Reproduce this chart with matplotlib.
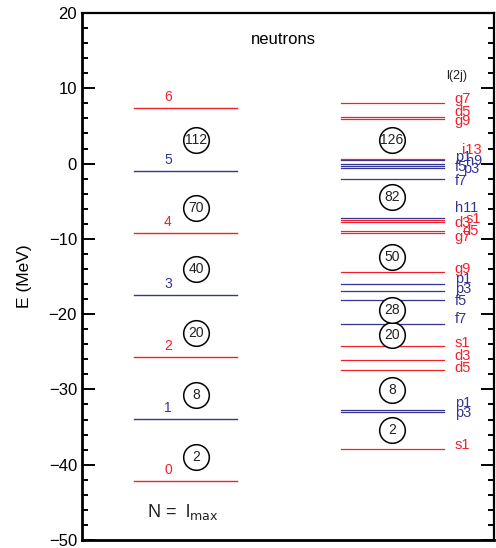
import matplotlib
matplotlib.use("Agg")
import matplotlib.pyplot as plt
from matplotlib.ticker import MultipleLocator

plt.rcParams["font.family"] = ["Liberation Sans", "DejaVu Sans"]

RED = "#f0202c"
BLUE = "#343494"

# harmonic oscillator shells (left column)
ho_n = [0, 1, 2, 3, 4, 5, 6]
ho_energy = [-42.2, -33.9, -25.7, -17.45, -9.2, -1.0, 7.35]
ho_magic = [2, 8, 20, 40, 70, 112]
ho_magic_y = [-38.97, -30.74, -22.5, -14.0, -5.9, 3.13]

# Woods-Saxon + spin-orbit levels (right column)
ws_label = ["s1", "p3", "p1", "d5", "d3", "s1", "f7", "f5", "p3", "p1", "g9",
            "g7", "d5", "d3", "s1", "h11", "f7", "p3", "f5", "h9", "p1", "i13",
            "g9", "d5", "g7"]
ws_energy = [-37.87, -33.0, -32.73, -27.46, -26.04, -24.23, -21.26, -18.16,
             -16.97, -15.95, -14.44, -9.27, -8.9, -7.8, -7.49, -7.19, -2.0,
             -0.55, -0.3, -0.05, 0.43, 0.61, 5.88, 6.23, 8.09]
ws_magic = [2, 8, 20, 28, 50, 82, 126]
ws_magic_y = [-35.4, -30.07, -22.77, -19.45, -12.4, -4.44, 3.13]

# where each level's name is written (x, E), same order as ws_label
label_x = [0.905, 0.905, 0.905, 0.905, 0.905, 0.905, 0.905, 0.905, 0.905,
           0.905, 0.905, 0.905, 0.923, 0.905, 0.932, 0.905, 0.905, 0.925,
           0.905, 0.932, 0.905, 0.922, 0.905, 0.905, 0.905]
label_y = [-37.38, -33.17, -31.84, -27.19, -25.56, -23.79, -20.64, -18.25,
           -16.62, -15.37, -14.04, -9.71, -8.95, -7.93, -7.40, -5.94, -2.27,
           -0.76, -0.41, 0.38, 0.91, 1.80, 5.66, 6.89, 8.54]


def parity_color(name):
    return RED if name[0] in "sdgi" else BLUE


fig = plt.figure(figsize=(4.96, 5.48), dpi=100)
ax = fig.add_axes([0.165, 0.0146, 0.831, 0.9616])
ax.set_xlim(0, 1)
ax.set_ylim(-50, 20)

for n, e in zip(ho_n, ho_energy):
    c = RED if n % 2 == 0 else BLUE
    ax.plot([0.126, 0.376], [e, e], color=c, lw=1.0)
    ax.text(0.209, e + 1.5, str(n), color=c, fontsize=10, ha="center", va="center")

for name, e, lx, ly in zip(ws_label, ws_energy, label_x, label_y):
    c = parity_color(name)
    ax.plot([0.629, 0.879], [e, e], color=c, lw=0.9)
    ax.text(lx, ly, name, color=c, fontsize=10.5, ha="left", va="center")

for xs, mags, ys in [(0.277, ho_magic, ho_magic_y), (0.752, ws_magic, ws_magic_y)]:
    ax.scatter([xs] * len(mags), ys, s=340, facecolors="white",
               edgecolors="black", linewidths=1.1, zorder=3)
    for m, y in zip(mags, ys):
        ax.text(xs, y, str(m), fontsize=10, ha="center", va="center",
                color="#222222", zorder=4)

ax.text(0.49, 16.5, "neutrons", fontsize=12, ha="center", va="center")
ax.text(0.909, 11.7, "l(2j)", fontsize=9, ha="center", va="center", color="#222222")
ax.text(0.245, -46.3, r"N =  l$_{\rm max}$", fontsize=13, ha="center",
        va="center", color="#222222")

ax.set_ylabel("E (MeV)", fontsize=12.5, labelpad=12)
ax.yaxis.set_major_locator(MultipleLocator(10))
ax.yaxis.set_minor_locator(MultipleLocator(2))
ax.tick_params(axis="y", which="both", direction="in", left=True, right=True,
               labelsize=12)
ax.tick_params(axis="y", which="major", length=9.5, width=1.4)
ax.tick_params(axis="y", which="minor", length=4.5, width=1.4)
ax.tick_params(axis="x", which="both", bottom=False, top=False, labelbottom=False)

for side in ["left", "bottom"]:
    ax.spines[side].set_linewidth(2.0)
for side in ["top", "right"]:
    ax.spines[side].set_linewidth(1.6)

plt.savefig("out.png", dpi=100)
plt.close()
